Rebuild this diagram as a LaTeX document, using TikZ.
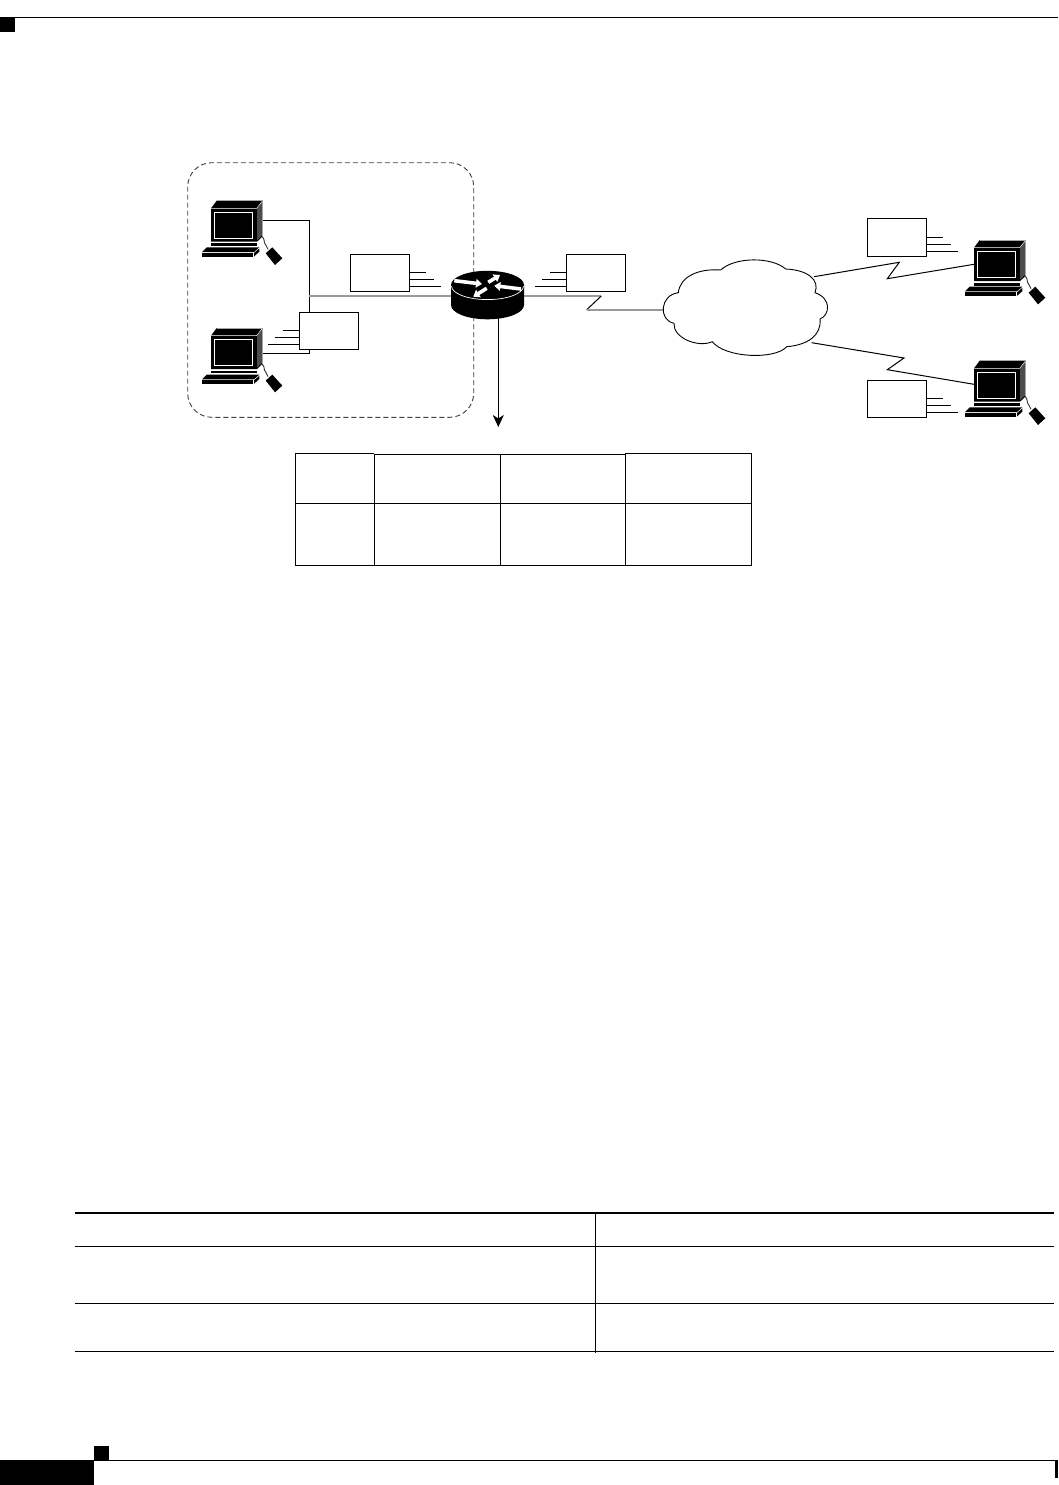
\documentclass[tikz,border=0pt]{standalone}
\usetikzlibrary{arrows.meta}
\definecolor{wiregray}{HTML}{9A9A9A}
\definecolor{dashgray}{HTML}{404040}
\tikzset{
  packetbox/.style={draw=black,fill=white,line width=1pt,minimum width=59pt,minimum height=37pt,inner sep=0pt,outer sep=0pt},
  cell/.style={draw=black,line width=1.1pt},
  thinwire/.style={draw=black,line width=1pt},
  graywire/.style={draw=wiregray,line width=1.8pt},
  speedline/.style={draw=black,line width=0.9pt},
  routerarrow/.style={draw=white,line width=3.6pt,-{Triangle[length=6pt,width=8.5pt,fill=white]}},
  rule/.style={draw=black,line width=1.1pt},
  pics/pcicon/.style={code={
    \fill[black] (0,0) -- (5.7,-7.6) -- (51.7,-7.6) -- (51.7,28) -- (46,33.4) -- (0,33.4) -- cycle;
    \fill[black!70] (46,0.5) -- (51.2,-6.5) -- (51.2,27) -- (46,32) -- cycle;
    \draw[white,line width=0.5pt] (0,0) -- (45.7,0) -- (51.7,-7.6);
    \draw[black!35,line width=0.5pt] (5.7,-7.6) -- (51.7,-7.6) -- (51.7,28);
    \draw[white,line width=1pt] (3.4,4) rectangle (41.7,30);
    \fill[black] (0,35) rectangle (46,37.8);
    \fill[black] (-4.3,39) -- (48.3,39) -- (43,43.7) -- (-9,43.7) -- cycle;
    \fill[black] (-9,44.5) rectangle (42.3,48.4);
    \fill[black] (48.3,40.2) -- (48.3,43.4) -- (43,48.2) -- (43,44.7) -- cycle;
    \draw[black!80,line width=0.9pt] (51,28.5) .. controls (54,30.5) and (52.5,33) .. (53.5,34.5) .. controls (55,36) and (55,38) .. (57,41);
    \fill[black] (54.7,45) -- (61.3,39) -- (71.3,50) -- (64,56.7) -- cycle;
  }}
}
\begin{document}
\begin{tikzpicture}[x=1pt,y=-1pt]
\useasboundingbox (0,0) rectangle (1058,1485);
\fill[white] (0,0) rectangle (1058,1485);

% page furniture
\draw[rule] (0,17.3) -- (1058,17.3);
\fill[black] (0,18) rectangle (15,32);
\fill[black] (0,1460) rectangle (94,1485);
\fill[black] (94,1446) rectangle (109,1460);
\draw[rule] (94,1460.4) -- (1055,1460.4);
\fill[black] (1055,1460) rectangle (1058,1478);

% dashed enclosure
\draw[dashgray,line width=0.9pt,dash pattern=on 5pt off 3pt,rounded corners=24pt]
  (187.7,162.7) rectangle (473.7,417.3);

% ports
\coordinate (pcAport) at (262.7,220.3);
\coordinate (pcBport) at (262.7,353.3);
\coordinate (busTop) at (309.3,220.3);
\coordinate (busBot) at (309.3,353.3);
\coordinate (busMid) at (309.3,295.7);
\coordinate (routerW) at (452,295.7);
\coordinate (routerE) at (524,296);
\coordinate (routerS) at (498.3,318);
\coordinate (arrowEnd) at (498.3,427);
\coordinate (zigA) at (601.3,296);
\coordinate (zigB) at (586.7,309.7);
\coordinate (cloudW) at (663.3,309.7);
\coordinate (cloudNE) at (814,276.7);
\coordinate (cloudSE) at (811.7,342.7);
\coordinate (pcCport) at (974,264.3);
\coordinate (pcDport) at (974,384.3);

% LAN wiring
\draw[thinwire] (pcAport) -- (busTop) -- (busBot) -- (pcBport);
\draw[graywire] (busMid) -- (routerW);

% WAN wiring
\draw[graywire] (routerE) -- (zigA);
\draw[thinwire] (zigA) -- (zigB);
\draw[graywire] (zigB) -- (cloudW);
\draw[thinwire] (cloudNE) -- (899.3,262.3) -- (887.3,278.7) -- (pcCport);
\draw[thinwire] (cloudSE) -- (904,358) -- (887.3,369.7) -- (pcDport);

% packets
\node[packetbox] (pktA) at (380,272.8) {};
\node[packetbox] (pktB) at (329,330.8) {};
\node[packetbox] (pktC) at (595.8,272.8) {};
\node[packetbox,minimum height=38pt] (pktD) at (897,237.3) {};
\node[packetbox] (pktE) at (897,398.8) {};
\foreach \yy/\xx in {272.3/426,279.3/434,286.3/441}
  \draw[speedline] (409.7,\yy) -- (\xx,\yy);
\foreach \yy/\xx in {330.3/283,337.3/275,344.3/268}
  \draw[speedline] (299.5,\yy) -- (\xx,\yy);
\foreach \yy/\xx in {272.3/550,279.3/542,286.3/535}
  \draw[speedline] (566.3,\yy) -- (\xx,\yy);
\foreach \yy/\xx in {237.3/942.7,244.3/950.7,251.3/957.7}
  \draw[speedline] (926.5,\yy) -- (\xx,\yy);
\foreach \yy/\xx in {398.3/942.7,405.3/950.7,412.3/957.7}
  \draw[speedline] (926.5,\yy) -- (\xx,\yy);

% computers
\pic at (211,208.3) {pcicon};
\pic at (211,335.6) {pcicon};
\pic at (974,247.7) {pcicon};
\pic at (974,368.3) {pcicon};

% cloud
\draw[black,fill=white,line width=0.9pt]
  (678.3,292.7) .. controls (680,276.7) and (698.3,268.3) .. (720.7,270)
  .. controls (735,256.7) and (771.7,256.7) .. (785.7,269)
  .. controls (808,270) and (820,280) .. (815,292.7)
  .. controls (831.7,298.3) and (830,315) .. (820,319)
  .. controls (821.7,335) and (808,345) .. (786.7,346.7)
  .. controls (775,360) and (725,358) .. (712.3,341.7)
  .. controls (698,348) and (673,338) .. (674,323.3)
  .. controls (658,320) and (660,295) .. (678.3,292.7) -- cycle;

% router
\fill[black] (451,285) -- (451,305) arc[start angle=180,end angle=0,x radius=36.5,y radius=14.3] -- (524,285) -- cycle;
\fill[black] (487.5,285) ellipse[x radius=36.5,y radius=14.2];
\draw[white,line width=0.7pt] (451.5,286) arc[start angle=180,end angle=0,x radius=36,y radius=13.6];
\draw[routerarrow] (454.3,280.7) -- (482,284);
\draw[routerarrow] (488.3,282.3) -- (500,275);
\draw[routerarrow] (486.7,288.3) -- (473.3,296.7);
\draw[routerarrow] (521,289) -- (494.3,285.7);

% output arrow
\draw[black,line width=1pt,-{Stealth[length=12pt,width=11pt,inset=3.5pt]}] (routerS) -- (arrowEnd);

% header record
\draw[cell] (295.7,453.7) -- (374.3,453.7);
\draw[cell] (374.3,454.7) -- (625.3,454.7);
\draw[cell] (625.3,453.7) -- (751.3,453.7);
\draw[cell] (295.7,503.3) -- (751.3,503.3);
\draw[cell] (295.7,565.3) -- (751.3,565.3);
\draw[cell] (295.7,453.2) -- (295.7,565.8);
\draw[cell] (374.3,453.7) -- (374.3,565.8);
\draw[cell] (500.3,454.7) -- (500.3,565.8);
\draw[cell] (625.3,453.7) -- (625.3,565.8);
\draw[cell] (751.3,453.2) -- (751.3,565.8);

% bottom table
\draw[black,line width=2pt] (75,1213) -- (1054,1213);
\draw[rule] (75,1246.2) -- (1054,1246.2);
\draw[rule] (75,1303.3) -- (1054,1303.3);
\draw[rule] (75,1351.5) -- (1054,1351.5);
\draw[black,line width=0.5pt] (595.3,1213) -- (595.3,1353);
\end{tikzpicture}
\end{document}
